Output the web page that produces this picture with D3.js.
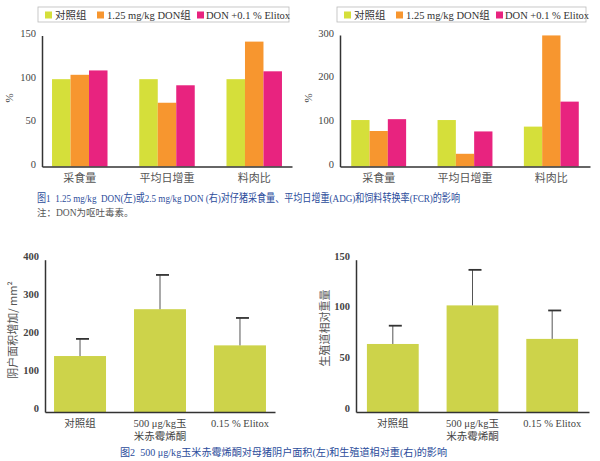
<!DOCTYPE html>
<html><head><meta charset="utf-8">
<script src="https://cdn.jsdelivr.net/npm/d3@7"></script>
<style>
html,body{margin:0;padding:0;background:#fff;}
svg{display:block;}
text{white-space:pre;}
</style></head>
<body>
<svg id="c" width="600" height="461"></svg>
<script>
// ---------- data ----------
const groupCats = ['采食量', '平均日增重', '料肉比'];
const seriesNames = ['对照组', '1.25 mg/kg DON组', 'DON +0.1 % Elitox'];
const seriesColors = ['#d5df3a', '#f7962f', '#e8237f'];
const leftControl = [100, 100, 100];
const leftDon = [105, 73, 143];
const leftElitox = [110, 93, 109];
const rightControl = [106, 106, 91];
const rightDon = [81, 29, 299];
const rightElitox = [108, 80, 148];
const leftTicks = [0, 50, 100, 150];
const rightTicks = [0, 100, 200, 300];

const treatCats = ['对照组', '500 μg/kg玉\n米赤霉烯酮', '0.15 % Elitox'];
const vulvaMean = [147, 270, 175];
const vulvaErr = [192, 360, 247];
const tractMean = [67, 105, 72];
const tractErr = [85, 140, 100];
const vulvaTicks = [0, 100, 200, 300, 400];
const tractTicks = [0, 50, 100, 150];

const caption1 = '图1  1.25 mg/kg  DON(左)或2.5 mg/kg DON (右)对仔猪采食量、平均日增重(ADG)和饲料转换率(FCR)的影响';
const note1 = '注：DON为呕吐毒素。';
const caption2 = '图2  500 μg/kg玉米赤霉烯酮对母猪阴户面积(左)和生殖道相对重(右)的影响';

// ---------- drawing ----------
const svg = d3.select('#c');
const SERIF = '"Liberation Serif","Times New Roman","Noto Sans CJK SC",serif';
const SANS = '"Noto Sans CJK SC","Noto Sans",sans-serif';
const AX = '#333';

function grouped(opt) {
  const g = svg.append('g');
  const x0 = d3.scaleBand().domain(groupCats).range([opt.x0, opt.x1]).paddingInner(0.364).paddingOuter(opt.po);
  const x1 = d3.scaleBand().domain(seriesNames).range([0, x0.bandwidth()]);
  const y = d3.scaleLinear().domain([0, opt.max]).range([opt.yb, opt.yt]);
  const rows = groupCats.map((c, i) => ({cat: c, vals: opt.series.map((s, j) => ({name: seriesNames[j], v: s[i], col: seriesColors[j]}))}));
  g.selectAll('g.grp').data(rows).join('g')
    .attr('transform', d => `translate(${x0(d.cat)},0)`)
    .selectAll('rect').data(d => d.vals).join('rect')
    .attr('x', d => x1(d.name)).attr('width', x1.bandwidth())
    .attr('y', d => y(d.v)).attr('height', d => y(0) - y(d.v))
    .attr('fill', d => d.col);
  const ya = g.append('g').attr('transform', `translate(${opt.x0},0)`)
    .call(d3.axisLeft(y).tickValues(opt.ticks).tickSize(0).tickPadding(6));
  ya.select('.domain').attr('stroke', AX).attr('stroke-width', 1.5);
  ya.selectAll('text').attr('font-family', SERIF).attr('font-size', 10.5).attr('fill', '#444').attr('dy', '0.1em');
  const xa = g.append('g').attr('transform', `translate(0,${opt.yb})`)
    .call(d3.axisBottom(x0).tickSize(0).tickPadding(8).tickSizeOuter(0));
  xa.select('.domain').attr('stroke', AX).attr('stroke-width', 1.5);
  xa.selectAll('text').attr('font-family', SANS).attr('font-size', 11).attr('fill', '#555');
  g.append('text').attr('transform', `translate(${opt.lx},98) rotate(-90)`)
    .attr('text-anchor', 'middle').attr('font-family', SERIF).attr('font-size', 11).attr('fill', '#444').text('%');
  const lg = g.append('g').attr('transform', `translate(${opt.legX},7)`);
  lg.append('rect').attr('width', opt.legW).attr('height', 15).attr('fill', '#fff').attr('stroke', '#bbb').attr('stroke-width', 0.8);
  const offs = [[7, 17], [59, 69], [159, 168]];
  seriesNames.forEach((n, j) => {
    lg.append('rect').attr('x', offs[j][0]).attr('y', 4.5).attr('width', 7).attr('height', 7).attr('fill', seriesColors[j]);
    lg.append('text').attr('x', offs[j][1]).attr('y', 11.8)
      .attr('font-family', j === 0 ? SANS : SERIF).attr('font-size', 10.5).attr('fill', '#333').text(n);
  });
}

grouped({x0: 42, x1: 292, po: 0.115, yb: 166.5, yt: 35.5, max: 150, ticks: leftTicks,
  series: [leftControl, leftDon, leftElitox], lx: 13, legX: 38, legW: 251});
grouped({x0: 340, x1: 590, po: 0.13, yb: 166.5, yt: 35, max: 300, ticks: rightTicks,
  series: [rightControl, rightDon, rightElitox], lx: 312, legX: 337, legW: 249});

svg.append('text').attr('x', 37).attr('y', 202).attr('font-family', SERIF).attr('font-size', 11)
  .attr('textLength', 423).attr('lengthAdjust', 'spacingAndGlyphs')
  .attr('fill', '#2b4c9b').text(caption1);
svg.append('text').attr('x', 37).attr('y', 216).attr('font-family', SERIF).attr('font-size', 9.5)
  .attr('fill', '#555').text(note1);

function simple(opt) {
  const g = svg.append('g');
  const x = d3.scaleBand().domain(treatCats).range([opt.x0, opt.x1]).paddingInner(0.35).paddingOuter(opt.po);
  const y = d3.scaleLinear().domain([0, opt.max]).range([412, opt.yt]);
  const rows = treatCats.map((c, i) => ({c, m: opt.mean[i], e: opt.err[i]}));
  g.selectAll('rect.bar').data(rows).join('rect').attr('class', 'bar')
    .attr('x', d => x(d.c)).attr('width', x.bandwidth())
    .attr('y', d => y(d.m)).attr('height', d => y(0) - y(d.m)).attr('fill', '#cdd34a');
  g.selectAll('line.ev').data(rows).join('line').attr('class', 'ev')
    .attr('x1', d => x(d.c) + x.bandwidth() / 2).attr('x2', d => x(d.c) + x.bandwidth() / 2)
    .attr('y1', d => y(d.m)).attr('y2', d => y(d.e)).attr('stroke', '#555').attr('stroke-width', 1);
  g.selectAll('line.cap').data(rows).join('line').attr('class', 'cap')
    .attr('x1', d => x(d.c) + x.bandwidth() / 2 - 4).attr('x2', d => x(d.c) + x.bandwidth() / 2 + 9)
    .attr('y1', d => y(d.e)).attr('y2', d => y(d.e)).attr('stroke', '#333').attr('stroke-width', 1.8);
  const ya = g.append('g').attr('transform', `translate(${opt.x0},0)`)
    .call(d3.axisLeft(y).tickValues(opt.ticks).tickSize(0).tickPadding(6));
  ya.select('.domain').attr('stroke', AX).attr('stroke-width', 1.5);
  ya.selectAll('text').attr('font-family', SERIF).attr('font-size', 10.5).attr('font-weight', 'bold').attr('fill', '#444').attr('dy', '-0.05em');
  const xa = g.append('g').attr('transform', `translate(0,412)`)
    .call(d3.axisBottom(x).tickSize(0).tickPadding(0).tickSizeOuter(0));
  xa.select('.domain').attr('stroke', AX).attr('stroke-width', 1.5);
  xa.selectAll('.tick text').each(function(d) {
    const t = d3.select(this).text(null).attr('font-family', SERIF).attr('font-size', 10.5).attr('fill', '#444').attr('y', 0).attr('dy', null);
    d.split('\n').forEach((ln, i) => {
      t.append('tspan').attr('x', 0).attr('y', 15 + i * 12.5).text(ln);
    });
  });
  g.append('text').attr('transform', `translate(${opt.lx},${opt.ly}) rotate(-90)`)
    .attr('text-anchor', 'middle').attr('font-family', SANS).attr('font-size', 11).attr('fill', '#555').text(opt.label);
}

simple({x0: 45, x1: 275, po: 0.113, yt: 259.7, max: 400, ticks: vulvaTicks, mean: vulvaMean, err: vulvaErr,
  lx: 17, ly: 330, label: '阴户面积增加/ mm²'});
simple({x0: 356, x1: 589, po: 0.137, yt: 259.7, max: 150, ticks: tractTicks, mean: tractMean, err: tractErr,
  lx: 329, ly: 328, label: '生殖道相对重量'});

svg.append('text').attr('x', 120).attr('y', 456).attr('font-family', SERIF).attr('font-size', 10.5)
  .attr('textLength', 327).attr('lengthAdjust', 'spacingAndGlyphs')
  .attr('fill', '#2b4c9b').text(caption2);
</script>
</body></html>
